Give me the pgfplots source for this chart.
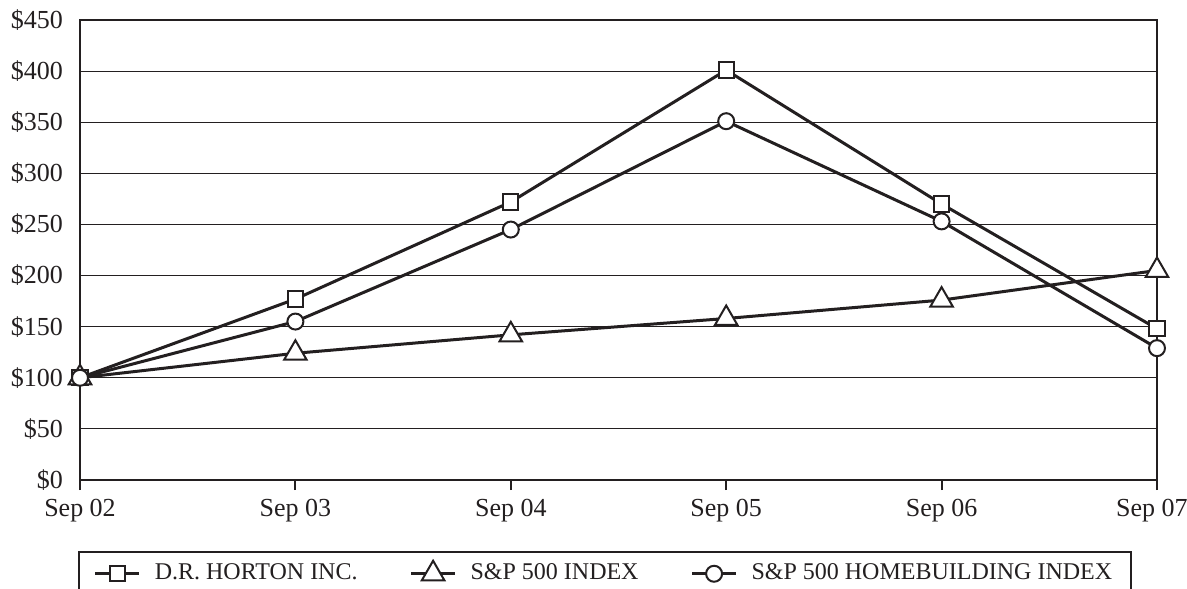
\documentclass[border=0pt]{standalone}
\usepackage{fontspec}
\setmainfont{Liberation Serif}
\usepackage{pgfplots}
\pgfplotsset{compat=1.18}
\definecolor{ink}{HTML}{231F20}
\begin{document}
\fontsize{13bp}{15bp}\selectfont
\begin{tikzpicture}
\begin{axis}[
  at={(0,0)}, anchor=south west,
  scale only axis, width=538.5bp, height=230bp,
  xmin=0, xmax=5, ymin=0, ymax=450,
  xtick={0,1,2,3,4,5},
  xticklabels={Sep 02,Sep 03,Sep 04,Sep 05,Sep 06,\hspace*{-5bp}Sep 07},
  ytick={0,50,...,450},
  yticklabels={\$0,\$50,\$100,\$150,\$200,\$250,\$300,\$350,\$400,\$450},
  /pgf/number format/assume math mode=true,
  tick label style={font=\fontsize{13bp}{15bp}\selectfont, text=ink},
  xtick pos=bottom, tick align=outside,
  xtick style={draw=ink, line width=1bp},
  major tick length=5bp,
  ytick style={draw=none},
  yticklabel shift=-1bp,
  xticklabel shift=0bp,
  ymajorgrids, grid style={draw=ink, line width=0.5bp},
  axis line style={draw=ink, line width=1bp},
  legend style={at={(-0.002,-0.154)}, anchor=north west, draw=ink, line width=1bp,
    font=\fontsize{12bp}{14bp}\selectfont, text=ink,
    inner xsep=7.5bp, inner ysep=4bp,
    /tikz/every odd column/.append style={column sep=5bp},
    /tikz/every even column/.append style={column sep=24bp}},
  legend columns=3,
  legend image code/.code={\draw[#1] (0bp,0bp) -- (22bp,0bp); \draw[#1, only marks] plot coordinates {(11bp,0bp)};},
  every axis plot/.append style={draw=ink, line width=1.5bp},
]
\addplot[mark=square*, mark size=3.8bp, mark options={fill=white, draw=ink, line width=1bp}]
  coordinates {(0,100) (1,177) (2,272) (3,401) (4,270) (5,148)};
\addlegendentry{D.R. HORTON INC.}
\addplot[mark=triangle*, mark size=6.5bp, mark options={fill=white, draw=ink, line width=1bp}]
  coordinates {(0,100) (1,124) (2,142) (3,158) (4,176) (5,205)};
\addlegendentry{S\&P 500 INDEX}
\addplot[mark=*, mark size=4bp, mark options={fill=white, draw=ink, line width=1bp}]
  coordinates {(0,100) (1,155) (2,245) (3,351) (4,253) (5,129)};
\addlegendentry{S\&P 500 HOMEBUILDING INDEX}
\draw[ink, line width=1.5bp] (axis cs:0,0) -- (axis cs:5,0);
\end{axis}
\pgfresetboundingbox
\path (-40bp,-54.5bp) rectangle (553.5bp,240bp);
\end{tikzpicture}
\end{document}
